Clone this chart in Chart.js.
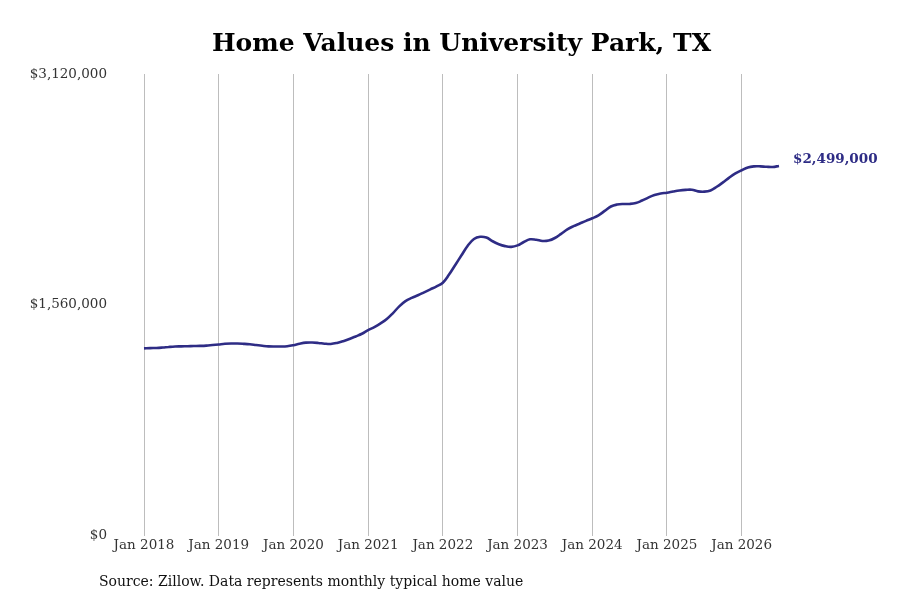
<!DOCTYPE html>
<html>
<head>
<meta charset="utf-8">
<script src="https://cdn.jsdelivr.net/npm/chart.js@4.4.1/dist/chart.umd.min.js"></script>
<style>
  html, body { margin: 0; padding: 0; background: #fff; }
  #wrap { position: relative; width: 900px; height: 600px; }
  #source { position: absolute; left: 99px; top: 573px; font-family: "DejaVu Serif", serif; font-size: 14px; color: #111; white-space: nowrap; }
</style>
</head>
<body>
<div id="wrap">
  <canvas id="c" width="900" height="600"></canvas>
  <div id="source">Source: Zillow. Data represents monthly typical home value</div>
</div>
<script>
const titleText = "Home Values in University Park, TX";
const startYear = 2018;
const yTicks = [0, 1560000, 3120000];
const values2018 = [1266000,1268000,1269000,1272000,1276000,1279000,1280000,1281000,1282000,1283000,1285000,1289000];
const values2019 = [1293000,1297000,1299000,1299000,1297000,1294000,1289000,1284000,1280000,1279000,1279000,1281000];
const values2020 = [1288000,1298000,1305000,1306000,1303000,1298000,1296000,1303000,1315000,1330000,1347000,1365000];
const values2021 = [1390000,1410000,1435000,1465000,1505000,1550000,1585000,1607000,1625000,1645000,1665000,1685000];
const values2022 = [1710000,1765000,1830000,1895000,1960000,2005000,2020000,2015000,1990000,1970000,1957000,1952000];
const values2023 = [1962000,1985000,2003000,2000000,1992000,1995000,2012000,2040000,2070000,2092000,2110000,2128000];
const values2024 = [2145000,2165000,2195000,2225000,2238000,2242000,2242000,2248000,2265000,2285000,2302000,2313000];
const values2025 = [2318000,2326000,2333000,2337000,2338000,2327000,2325000,2333000,2358000,2388000,2420000,2448000];
const values2026 = [2470000,2489000,2496000,2496000,2493000,2492000,2499000];

const values = [].concat(values2018, values2019, values2020, values2021, values2022, values2023, values2024, values2025, values2026);
const monthNames = ["Jan","Feb","Mar","Apr","May","Jun","Jul","Aug","Sep","Oct","Nov","Dec"];
const labels = values.map((v, i) => monthNames[i % 12] + " " + (startYear + Math.floor(i / 12)));

const lineColor = "#2e2c85";
const fmt = v => "$" + Math.round(v).toLocaleString("en-US");

const extras = {
  id: "extras",
  afterDraw(chart) {
    const ctx = chart.ctx;
    const area = chart.chartArea;
    ctx.save();
    ctx.fillStyle = "#000";
    ctx.font = "bold 25px 'DejaVu Serif', serif";
    ctx.textAlign = "center";
    ctx.textBaseline = "middle";
    ctx.fillText(titleText, (area.left + area.right) / 2, 44);
    const meta = chart.getDatasetMeta(0);
    const last = meta.data[meta.data.length - 1];
    ctx.fillStyle = lineColor;
    ctx.font = "bold 13.5px 'DejaVu Serif', serif";
    ctx.textAlign = "left";
    ctx.fillText(fmt(values[values.length - 1]), last.x + 14, last.y - 6);
    ctx.restore();
  }
};

new Chart(document.getElementById("c"), {
  type: "line",
  data: {
    labels: labels,
    datasets: [{
      data: values,
      borderColor: lineColor,
      borderWidth: 2.6,
      pointRadius: 0,
      tension: 0.4,
      fill: false
    }]
  },
  options: {
    responsive: false,
    animation: false,
    layout: { padding: { top: 74, right: 121, bottom: 44, left: 0 } },
    plugins: { legend: { display: false }, tooltip: { enabled: false }, title: { display: false } },
    scales: {
      x: {
        type: "category",
        offset: false,
        border: { display: false },
        grid: {
          drawTicks: false,
          color: c => (c.index % 12 === 0 ? "#bdbdbd" : "rgba(0,0,0,0)"),
          lineWidth: 1
        },
        ticks: {
          autoSkip: false,
          maxRotation: 0,
          padding: 2,
          color: "#333",
          font: { family: "'DejaVu Serif', serif", size: 13.5 },
          callback: (v, i) => (i % 12 === 0 ? labels[i] : "")
        }
      },
      y: {
        min: 0,
        max: 3120000,
        border: { display: false },
        grid: { display: false },
        afterFit: s => { s.width = 144; },
        afterBuildTicks: s => { s.ticks = yTicks.map(v => ({ value: v })); },
        ticks: {
          padding: 29,
          color: "#333",
          font: { family: "'DejaVu Serif', serif", size: 13.5 },
          callback: v => fmt(v)
        }
      }
    }
  },
  plugins: [extras]
});
</script>
</body>
</html>
